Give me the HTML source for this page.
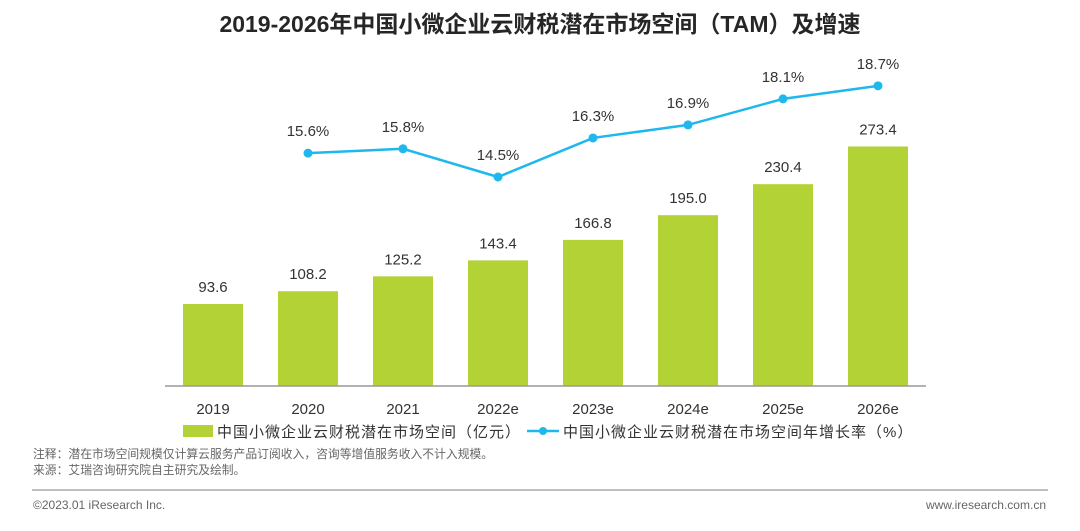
<!DOCTYPE html>
<html><head><meta charset="utf-8"><style>
body{margin:0;width:1080px;height:526px;background:#fff;overflow:hidden;font-family:"Liberation Sans","Noto Sans CJK SC",sans-serif;}
svg text{font-family:"Liberation Sans","Noto Sans CJK SC",sans-serif;}
</style></head><body>
<svg width="1080" height="526">
<text x="540" y="32" text-anchor="middle" font-size="23" font-weight="bold" fill="#262626">2019-2026年中国小微企业云财税潜在市场空间（TAM）及增速</text>
<g id="bars"></g><g id="line"></g>
<line x1="165" y1="386" x2="926" y2="386" stroke="#999" stroke-width="1.5"/>
<g>
<rect x="183" y="425" width="30" height="12" fill="#b2d235"/>
<text x="217" y="437" font-size="15" letter-spacing="1" fill="#333">中国小微企业云财税潜在市场空间（亿元）</text>
<line x1="527" y1="431" x2="559" y2="431" stroke="#1fb8ec" stroke-width="2.5"/>
<circle cx="543" cy="431" r="4" fill="#1fb8ec"/>
<text x="563" y="437" font-size="15" letter-spacing="1" fill="#333">中国小微企业云财税潜在市场空间年增长率（%）</text>
</g>
<text x="33" y="458" font-size="11.8" fill="#666">注释：潜在市场空间规模仅计算云服务产品订阅收入，咨询等增值服务收入不计入规模。</text>
<text x="33" y="474" font-size="11.8" fill="#666">来源：艾瑞咨询研究院自主研究及绘制。</text>
<line x1="32" y1="490" x2="1048" y2="490" stroke="#aaa" stroke-width="1.5"/>
<text x="33" y="509" font-size="12" fill="#666">©2023.01 iResearch Inc.</text>
<text x="1046" y="509" text-anchor="end" font-size="12" fill="#666">www.iresearch.com.cn</text>
</svg>
<script>
const categories=["2019","2020","2021","2022e","2023e","2024e","2025e","2026e"];
const marketValues=[93.6,108.2,125.2,143.4,166.8,195.0,230.4,273.4];
const growthCategories=["2020","2021","2022e","2023e","2024e","2025e","2026e"];
const growthValues=[15.6,15.8,14.5,16.3,16.9,18.1,18.7];
const NS="http://www.w3.org/2000/svg";
function xPos(i){return 213+i*95;}
function yBar(v){return 386-v*0.876;}
function yLine(v){return 177-(v-14.5)*21.7;}
function mk(t,a,p){const e=document.createElementNS(NS,t);for(const k in a)e.setAttribute(k,a[k]);p.appendChild(e);return e;}
const bars=document.getElementById('bars'),line=document.getElementById('line');
categories.forEach((c,i)=>{
 const v=marketValues[i];
 const r=mk('rect',{x:xPos(i)-30,y:yBar(v),width:60,height:386-yBar(v),fill:'#b2d235'},bars);
 
 
 const t=mk('text',{x:xPos(i),y:yBar(v)-12,'text-anchor':'middle','font-size':15,fill:'#333'},bars);
 t.textContent=v.toFixed(1);
 
 
 const l=mk('text',{x:xPos(i),y:414,'text-anchor':'middle','font-size':15,fill:'#333'},bars);
 l.textContent=c;
 
 
});
const pts=growthCategories.map((c,j)=>[xPos(categories.indexOf(c)),yLine(growthValues[j])]);
const pl=mk('polyline',{points:pts.map(p=>p.join(',')).join(' '),fill:'none',stroke:'#1fb8ec','stroke-width':2.5},line);


pts.forEach((p,j)=>{
 const c=mk('circle',{cx:p[0],cy:p[1],r:4.5,fill:'#1fb8ec'},line);
 
 
 const t=mk('text',{x:p[0],y:p[1]-17,'text-anchor':'middle','font-size':15,fill:'#333'},line);
 t.textContent=growthValues[j].toFixed(1)+'%';
 
 
});
</script>
</body></html>
